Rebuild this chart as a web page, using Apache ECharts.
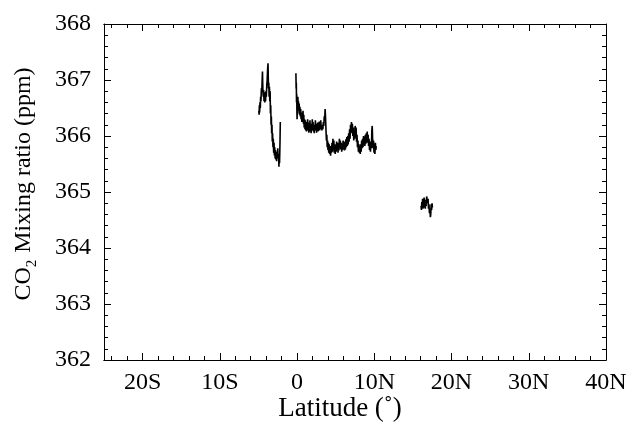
<!DOCTYPE html>
<html>
<head>
<meta charset="utf-8">
<script src="https://cdn.jsdelivr.net/npm/echarts@6/dist/echarts.min.js"></script>
<style>
html,body{margin:0;padding:0;background:#fff;}
#chart{width:636px;height:427px;}
</style>
</head>
<body>
<div id="chart"></div>
<script>
// Tick positions (degrees latitude, negative = S)
const xMajorTicks = [-20, -10, 0, 10, 20, 30, 40];
const xMinorTicks = [-24, -22, -18, -16, -14, -12, -8, -6, -4, -2, 2, 4, 6, 8, 12, 14, 16, 18, 22, 24, 26, 28, 32, 34, 36, 38];

// Segment 1 (southern leg)
const seg1Lat = [-4.95,-4.92,-4.88,-4.85,-4.80,-4.76,-4.72,-4.68,-4.62,-4.57,-4.52,-4.48,-4.45,-4.42,-4.38,-4.33,-4.28,-4.22,-4.18,-4.13,-4.08,-4.03,-3.98,-3.92,-3.87,-3.82,-3.76,-3.73,-3.70,-3.66,-3.62,-3.58,-3.53,-3.49,-3.45,-3.41,-3.37,-3.33,-3.29,-3.25,-3.21,-3.17,-3.12,-3.08,-3.03,-2.98,-2.94,-2.89,-2.84,-2.80,-2.75,-2.70,-2.65,-2.60,-2.55,-2.50,-2.45,-2.40,-2.35,-2.31,-2.27,-2.24,-2.21,-2.19,-2.17];
const seg1Co2 = [366.45,366.38,366.55,366.42,366.60,366.50,366.70,366.62,366.85,366.78,367.00,367.15,366.95,366.80,366.70,366.82,366.62,366.78,366.60,366.75,366.62,366.80,366.70,366.92,367.00,367.18,367.30,367.05,366.85,366.95,366.70,366.88,366.62,366.80,366.40,366.55,366.20,366.35,366.05,366.20,365.90,366.05,365.80,365.95,365.70,365.88,365.65,365.80,365.60,365.75,365.58,365.72,365.55,365.70,365.62,365.78,365.60,365.68,365.45,365.62,365.52,365.70,365.90,366.10,366.25];

// Segment 2 (equator to 10N)
const seg2Lat = [-0.15,-0.12,-0.10,-0.07,-0.05,-0.02,0.00,0.03,0.06,0.10,0.14,0.18,0.22,0.27,0.32,0.37,0.42,0.47,0.52,0.57,0.62,0.67,0.72,0.77,0.82,0.87,0.92,0.97,1.02,1.07,1.12,1.17,1.22,1.27,1.32,1.37,1.42,1.47,1.52,1.57,1.62,1.67,1.72,1.77,1.82,1.87,1.92,1.97,2.02,2.07,2.12,2.17,2.22,2.27,2.32,2.37,2.42,2.47,2.52,2.57,2.62,2.67,2.72,2.77,2.82,2.87,2.92,2.97,3.02,3.07,3.12,3.17,3.22,3.28,3.34,3.40,3.46,3.52,3.58,3.63,3.67,3.72,3.76,3.80,3.85,3.90,3.95,4.00,4.05,4.10,4.16,4.22,4.28,4.34,4.40,4.46,4.52,4.58,4.64,4.70,4.76,4.82,4.88,4.94,5.00,5.06,5.12,5.18,5.24,5.30,5.36,5.42,5.48,5.54,5.60,5.66,5.72,5.78,5.84,5.90,5.96,6.02,6.08,6.14,6.20,6.26,6.32,6.38,6.44,6.50,6.56,6.62,6.68,6.74,6.80,6.86,6.92,6.98,7.04,7.10,7.16,7.22,7.28,7.34,7.40,7.46,7.52,7.58,7.64,7.70,7.76,7.82,7.88,7.94,8.00,8.06,8.12,8.18,8.24,8.30,8.36,8.42,8.48,8.54,8.60,8.66,8.72,8.78,8.84,8.90,8.96,9.02,9.08,9.14,9.20,9.26,9.32,9.38,9.44,9.50,9.56,9.62,9.68,9.73,9.78,9.84,9.90,9.96,10.02,10.08,10.14,10.20,10.25];
const seg2Co2 = [367.12,366.85,366.95,366.60,366.75,366.45,366.30,366.55,366.40,366.70,366.55,366.62,366.45,366.58,366.38,366.52,366.35,366.48,366.30,366.42,366.25,366.40,366.28,366.45,366.22,366.38,366.15,366.30,366.12,366.28,366.10,366.25,366.08,366.22,366.12,366.30,366.10,366.24,366.06,366.20,366.10,366.28,366.08,366.22,366.05,366.18,366.10,366.30,366.12,366.25,366.08,366.20,366.05,366.18,366.10,366.28,366.12,366.22,366.06,366.18,366.10,366.24,366.08,366.20,366.12,366.26,366.10,366.22,366.15,366.28,366.12,366.20,366.10,366.18,366.12,366.25,366.18,366.35,366.30,366.48,366.38,366.20,366.05,365.92,366.02,365.80,365.92,365.75,365.88,365.70,365.85,365.68,365.82,365.65,365.80,365.70,365.88,365.72,365.95,365.78,365.92,365.70,365.85,365.68,365.82,365.72,365.90,365.75,365.88,365.70,365.85,365.74,365.95,365.80,365.92,365.76,365.88,365.72,365.86,365.75,365.92,365.78,365.90,365.74,365.88,365.76,365.94,365.80,365.98,365.82,366.00,365.85,366.05,365.90,366.12,365.95,366.20,366.05,366.25,366.08,366.22,366.00,366.15,365.92,366.10,365.95,366.18,366.05,366.15,365.90,366.02,365.80,365.92,365.72,365.85,365.70,365.82,365.68,365.85,365.72,365.92,365.78,365.95,365.80,366.00,365.85,365.98,365.82,366.02,365.86,366.05,365.88,366.08,365.90,366.02,365.82,365.95,365.75,365.90,365.72,365.88,365.78,366.10,366.18,365.95,365.78,365.92,365.70,365.85,365.68,365.88,365.75,365.82];

// Segment 3 (around 17N)
const seg3Lat = [16.05,16.10,16.15,16.20,16.25,16.30,16.35,16.40,16.45,16.50,16.55,16.60,16.66,16.72,16.78,16.84,16.90,16.96,17.02,17.08,17.14,17.20,17.26,17.31,17.36,17.42,17.48,17.52];
const seg3Co2 = [364.75,364.68,364.82,364.72,364.88,364.70,364.85,364.74,364.90,364.72,364.86,364.70,364.82,364.75,364.92,364.95,364.80,364.88,364.70,364.78,364.62,364.70,364.55,364.60,364.78,364.68,364.80,364.72];

const FONT = '"Liberation Serif", "DejaVu Serif", serif';
const FS = 24;
const zip = (a, b) => a.map((v, i) => [v, b[i]]);
const latFmt = v => v < 0 ? (-v) + 'S' : (v > 0 ? v + 'N' : '0');

const chart = echarts.init(document.getElementById('chart'), null, {renderer: 'canvas'});

const baseX = {
  type: 'value', min: -25, max: 40, gridIndex: 0,
  axisLine: {show: true, onZero: false, lineStyle: {color: '#000', width: 1}},
  splitLine: {show: false}
};
const baseY = {
  type: 'value', min: 362, max: 368, interval: 1, gridIndex: 0,
  axisLine: {show: true, onZero: false, lineStyle: {color: '#000', width: 1}},
  splitLine: {show: false},
  axisTick: {show: true, inside: true, length: 7, lineStyle: {color: '#000'}},
  minorTick: {show: true, splitNumber: 5, length: 4, lineStyle: {color: '#000'}}
};

const seriesStyle = {
  type: 'line', showSymbol: false, symbol: 'none', xAxisIndex: 0, yAxisIndex: 0,
  lineStyle: {color: '#000', width: 1.6}, silent: true, clip: true
};

chart.setOption({
  animation: false,
  backgroundColor: '#fff',
  grid: {left: 104, top: 24, width: 502, height: 336, containLabel: false},
  xAxis: [
    Object.assign({}, baseX, {
      position: 'bottom',
      axisTick: {show: true, inside: true, length: 7, customValues: xMajorTicks, lineStyle: {color: '#000'}},
      axisLabel: {show: true, customValues: xMajorTicks, formatter: latFmt, color: '#000',
        fontFamily: FONT, fontSize: FS, margin: 11}
    }),
    Object.assign({}, baseX, {
      position: 'bottom',
      axisTick: {show: true, inside: true, length: 4, customValues: xMinorTicks, lineStyle: {color: '#000'}},
      axisLabel: {show: false}
    }),
    Object.assign({}, baseX, {
      position: 'top',
      axisTick: {show: true, inside: true, length: 7, customValues: xMajorTicks, lineStyle: {color: '#000'}},
      axisLabel: {show: false}
    }),
    Object.assign({}, baseX, {
      position: 'top',
      axisTick: {show: true, inside: true, length: 4, customValues: xMinorTicks, lineStyle: {color: '#000'}},
      axisLabel: {show: false}
    })
  ],
  yAxis: [
    Object.assign({}, baseY, {
      position: 'left',
      axisLabel: {show: true, color: '#000', fontFamily: FONT, fontSize: FS, margin: 13}
    }),
    Object.assign({}, baseY, {
      position: 'right',
      axisLabel: {show: false}
    })
  ],
  graphic: [
    {
      type: 'text', x: 340, y: 409,
      style: {text: 'Latitude (˚)', fill: '#000', font: '27px ' + FONT, align: 'center', verticalAlign: 'middle'}
    },
    {
      type: 'text', x: 24, y: 184, rotation: Math.PI / 2,
      style: {
        text: 'CO{sub|2} Mixing ratio (ppm)', fill: '#000', font: FS + 'px ' + FONT,
        align: 'center', verticalAlign: 'middle',
        rich: {sub: {fontFamily: FONT, fontSize: 15, fill: '#000', verticalAlign: 'bottom', padding: [16, 1, 0, 0]}}
      }
    }
  ],
  series: [
    Object.assign({}, seriesStyle, {data: zip(seg1Lat, seg1Co2)}),
    Object.assign({}, seriesStyle, {data: zip(seg2Lat, seg2Co2)}),
    Object.assign({}, seriesStyle, {data: zip(seg3Lat, seg3Co2)})
  ]
});
</script>
</body>
</html>
